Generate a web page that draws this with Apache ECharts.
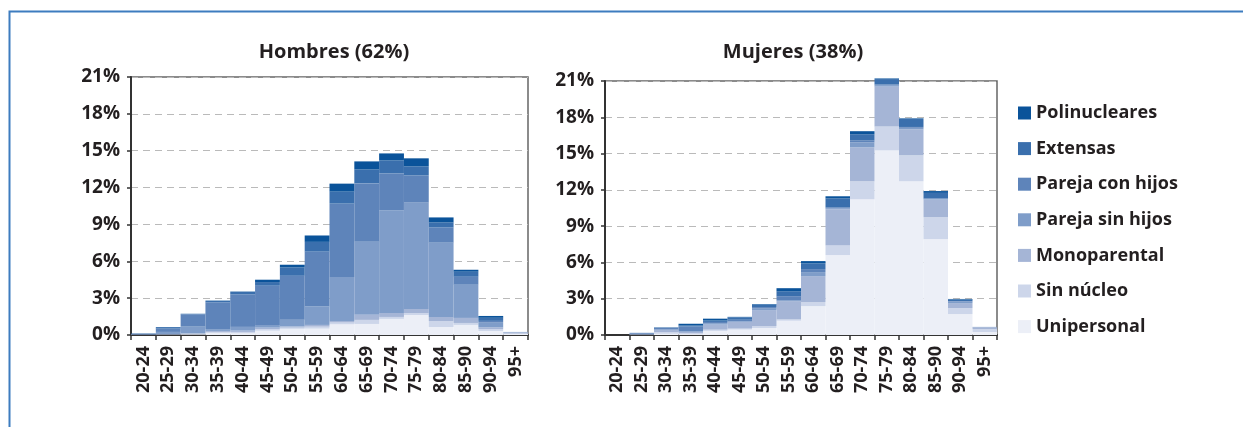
<!DOCTYPE html>
<html>
<head>
<meta charset="utf-8">
<script src="https://cdn.jsdelivr.net/npm/echarts@6/dist/echarts.min.js"></script>
<style>
html,body{margin:0;padding:0;background:#fff;}
#chart{width:1243px;height:427px;}
</style>
</head>
<body>
<div id="chart"></div>
<script>
const categories = ['20-24','25-29','30-34','35-39','40-44','45-49','50-54','55-59','60-64','65-69','70-74','75-79','80-84','85-90','90-94','95+'];
const yTicks = [0,3,6,9,12,15,18,21];
const seriesNames = ['Unipersonal','Sin núcleo','Monoparental','Pareja sin hijos','Pareja con hijos','Extensas','Polinucleares'];

// Hombres (bottom to top)
const uniH  = [0.02,0.02,0.05,0.17,0.14,0.35,0.50,0.52,0.87,0.90,1.31,1.63,0.65,0.82,0.33,0.08];
const sinH  = [0.00,0.02,0.04,0.08,0.11,0.14,0.10,0.16,0.15,0.33,0.16,0.16,0.49,0.16,0.16,0.04];
const monoH = [0.00,0.02,0.05,0.08,0.11,0.11,0.10,0.14,0.12,0.41,0.33,0.33,0.33,0.41,0.14,0.10];
const pshH  = [0.02,0.19,0.54,0.15,0.30,0.22,0.55,1.50,3.59,5.96,8.33,8.66,6.05,2.70,0.42,0.03];
const pchH  = [0.05,0.27,1.00,2.17,2.64,3.19,3.57,4.47,5.96,4.74,3.02,2.21,1.23,0.65,0.10,0.00];
const extH  = [0.03,0.12,0.04,0.12,0.22,0.30,0.68,0.79,0.98,1.14,1.06,0.74,0.41,0.41,0.25,0.00];
const polH  = [0.01,0.01,0.01,0.03,0.02,0.19,0.22,0.52,0.65,0.65,0.57,0.65,0.41,0.16,0.15,0.00];

// Mujeres (bottom to top)
const uniM  = [0,0.02,0.10,0.08,0.34,0.45,0.58,1.18,2.39,6.60,11.22,15.26,12.71,7.92,1.73,0.25];
const sinM  = [0,0.00,0.15,0.07,0.10,0.08,0.16,0.11,0.33,0.83,1.49,1.98,2.15,1.82,0.50,0.24];
const monoM = [0,0.03,0.16,0.10,0.42,0.55,1.32,1.51,2.15,2.97,2.81,3.30,2.15,1.46,0.41,0.15];
const pshM  = [0,0.05,0.05,0.05,0.12,0.06,0.12,0.08,0.33,0.08,0.41,0.12,0.12,0.05,0.12,0.03];
const pchM  = [0,0.08,0.12,0.40,0.10,0.12,0.13,0.33,0.25,0.08,0.17,0.05,0.07,0.05,0.05,0.00];
const extM  = [0,0.00,0.04,0.08,0.12,0.20,0.21,0.41,0.47,0.74,0.50,0.45,0.68,0.45,0.13,0.00];
const polM  = [0,0.00,0.01,0.15,0.15,0.04,0.04,0.25,0.19,0.17,0.25,0.05,0.04,0.15,0.04,0.00];

const colors = ['#eceff7','#cdd6ea','#a5b5d6','#7f9dc9','#5e84ba','#3a6fad','#0a539a'];
const hData = [uniH,sinH,monoH,pshH,pchH,extH,polH];
const mData = [uniM,sinM,monoM,pshM,pchM,extM,polM];

const FONT = 'Open Sans';
const txt = {fontFamily: FONT, fontWeight: 'bold', color: '#231f20'};

function xAxis(idx){
  return {
    type:'category', gridIndex: idx, data: categories,
    axisLine:{show:true, lineStyle:{color:'#333', width:2}},
    axisTick:{show:true, alignWithLabel:false, length:5, lineStyle:{color:'#333', width:1.5}},
    axisLabel:Object.assign({rotate:90, fontSize:18, margin:11, interval:0}, txt),
    splitLine:{show:false}
  };
}
function yAxis(idx){
  return {
    type:'value', gridIndex: idx, min:yTicks[0], max:yTicks[yTicks.length-1], interval:3,
    axisLine:{show:true, lineStyle:{color:'#333', width:2}},
    axisTick:{show:true, length:4, lineStyle:{color:'#333', width:1.5}},
    axisLabel:Object.assign({fontSize:19, margin:11, formatter:'{value}%'}, txt),
    splitLine:{show:true, lineStyle:{color:'#bababa', type:[7,5], width:1.2}}
  };
}

const series = [];
seriesNames.forEach((n,i)=>{
  series.push({name:n, type:'bar', stack:'h', xAxisIndex:0, yAxisIndex:0, data:hData[i],
    barCategoryGap:'0%', itemStyle:{color:colors[i]}, clip:false, silent:true});
});
seriesNames.forEach((n,i)=>{
  series.push({name:n, type:'bar', stack:'m', xAxisIndex:1, yAxisIndex:1, data:mData[i],
    barCategoryGap:'0%', itemStyle:{color:colors[i]}, clip:false, silent:true});
});

const chart = echarts.init(document.getElementById('chart'), null, {renderer:'canvas'});
chart.setOption({
  animation:false,
  backgroundColor:'#fff',
  title:[
    {text:'Hombres (62%)', left:329, top:37, textAlign:'center', textStyle:Object.assign({fontSize:20}, txt)},
    {text:'Mujeres (38%)', left:788, top:37, textAlign:'center', textStyle:Object.assign({fontSize:20}, txt)}
  ],
  grid:[
    {left:131, right:715, top:77, bottom:92, show:true, borderColor:'#666', borderWidth:1.5, containLabel:false},
    {left:605, right:246, top:81, bottom:92, show:true, borderColor:'#666', borderWidth:1.5, containLabel:false}
  ],
  xAxis:[xAxis(0), xAxis(1)],
  yAxis:[yAxis(0), yAxis(1)],
  legend:{
    orient:'vertical', left:1018, top:104, padding:0,
    data:seriesNames.slice().reverse(),
    itemWidth:13, itemHeight:13, itemGap:17.6, icon:'rect',
    textStyle:Object.assign({fontSize:18, padding:[0,0,0,0]}, txt),
    selectedMode:false
  },
  graphic:[{
    type:'rect', shape:{x:9.5, y:11.5, width:1400, height:600},
    style:{fill:'none', stroke:'#3d7cbf', lineWidth:2}, silent:true
  }],
  series:series
});
</script>
</body>
</html>
